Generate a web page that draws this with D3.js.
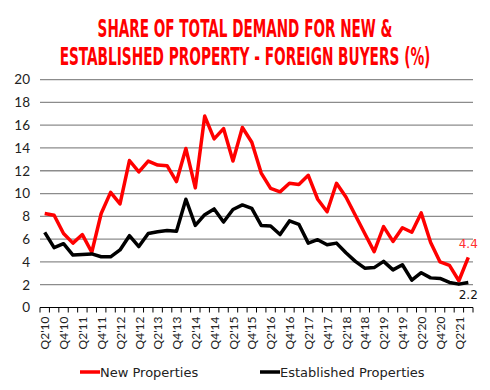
<!DOCTYPE html>
<html>
<head>
<meta charset="utf-8">
<script src="https://cdn.jsdelivr.net/npm/d3@7"></script>
<style>
  body { margin: 0; background: #fff; }
  svg { display: block; }
</style>
</head>
<body>
<svg id="chart" width="490" height="390"></svg>
<script>
// quarters from Q2'10 to Q3'21
const quarters = []
for (let yr = 10; yr <= 21; yr++) {
  for (let q = 1; q <= 4; q++) {
    if ((yr === 10 && q < 2) || (yr === 21 && q > 3)) continue
    quarters.push('Q' + q + "'" + yr)
  }
}

const newProps = [8.25, 8.1, 6.5, 5.65, 6.4, 4.85, 8.25, 10.1, 9.1, 12.9, 11.9, 12.85,
  12.5, 12.45, 11.05, 13.95, 10.5, 16.8, 14.8, 15.7, 12.85, 15.8, 14.5, 11.8,
  10.45, 10.15, 10.9, 10.8, 11.6, 9.5, 8.4, 10.9, 9.7, 8.1, 6.5, 4.9,
  7.1, 5.8, 7.0, 6.6, 8.3, 5.7, 4.0, 3.7, 2.35, 4.4]

const establishedProps = [6.6, 5.25, 5.6, 4.6, 4.65, 4.7, 4.45, 4.45, 5.05, 6.3, 5.35, 6.5,
  6.65, 6.75, 6.7, 9.5, 7.2, 8.15, 8.65, 7.5, 8.6, 9.0, 8.7, 7.2,
  7.15, 6.4, 7.6, 7.3, 5.65, 5.95, 5.5, 5.65, 4.8, 4.05, 3.45, 3.5,
  4.05, 3.3, 3.75, 2.4, 3.05, 2.6, 2.55, 2.2, 2.05, 2.2]

const yTicks = [0, 2, 4, 6, 8, 10, 12, 14, 16, 18, 20]
const titleLines = ['SHARE OF TOTAL DEMAND FOR NEW &', 'ESTABLISHED PROPERTY - FOREIGN BUYERS (%)']

const svg = d3.select('#chart')
const plotLeft = 40, plotRight = 473, plotTop = 79.6, plotBottom = 307.5

// title - squeeze horizontally to look like a condensed display face
let titleWidths = [295, 371]
svg.append('g').selectAll('text')
  .data(titleLines)
  .join('text')
    .attr('text-anchor', 'middle')
    .attr('fill', '#ff0000')
    .attr('font-family', "'DejaVu Sans Condensed', 'Liberation Sans Narrow', sans-serif")
    .attr('font-weight', 'bold')
    .attr('font-size', 25)
    .text(d => d)
    .attr('transform', function (d, i) {
      let w = this.getComputedTextLength()
      let sx = titleWidths[i] / w
      return 'translate(245,' + (i === 0 ? 37 : 65) + ') scale(' + sx + ',1)'
    })

let x = d3.scaleBand()
  .domain(quarters)
  .range([plotLeft, plotRight])

let y = d3.scaleLinear()
  .domain([0, 20])
  .range([plotBottom, plotTop])

// gridlines
svg.append('g').selectAll('line')
  .data(yTicks.filter(d => d > 0))
  .join('line')
    .attr('x1', plotLeft)
    .attr('x2', plotRight)
    .attr('y1', d => y(d))
    .attr('y2', d => y(d))
    .attr('stroke', '#8c8c8c')
    .attr('stroke-width', 1.3)

// y labels
svg.append('g').selectAll('text')
  .data(yTicks)
  .join('text')
    .attr('x', 30)
    .attr('y', d => y(d))
    .attr('dy', '0.36em')
    .attr('text-anchor', 'end')
    .attr('font-family', 'Lato, sans-serif')
    .attr('font-size', 13.5)
    .attr('fill', '#222')
    .text(d => d)

// x axis with ticks at band edges
let xAxis = svg.append('g')
xAxis.append('line')
  .attr('x1', plotLeft).attr('x2', plotRight)
  .attr('y1', plotBottom).attr('y2', plotBottom)
  .attr('stroke', '#000')
  .attr('stroke-width', 1.2)
xAxis.selectAll('.tk')
  .data(quarters.concat(['end']))
  .join('line')
    .attr('class', 'tk')
    .attr('x1', (d, i) => plotLeft + i * x.bandwidth())
    .attr('x2', (d, i) => plotLeft + i * x.bandwidth())
    .attr('y1', plotBottom)
    .attr('y2', plotBottom + 5)
    .attr('stroke', '#000')
    .attr('stroke-width', 1)
xAxis.selectAll('text')
  .data(quarters.filter((d, i) => i % 2 === 0))
  .join('text')
    .attr('transform', d => 'translate(' + (x(d) + x.bandwidth() / 2 + 0.5) + ',' + (plotBottom + 9) + ') rotate(-90)')
    .attr('dy', '0.35em')
    .attr('text-anchor', 'end')
    .attr('font-family', 'Lato, sans-serif')
    .attr('font-size', 12)
    .attr('fill', '#222')
    .text(d => d)

let line = d3.line()
  .x((d, i) => x(quarters[i]) + x.bandwidth() / 2)
  .y(d => y(d))

svg.append('path')
  .datum(newProps)
  .attr('fill', 'none')
  .attr('stroke', '#ff0000')
  .attr('stroke-width', 3.5)
  .attr('stroke-linejoin', 'round')
  .attr('d', line)

svg.append('path')
  .datum(establishedProps)
  .attr('fill', 'none')
  .attr('stroke', '#000')
  .attr('stroke-width', 3.5)
  .attr('stroke-linejoin', 'round')
  .attr('d', line)

// end value labels
let lastQ = quarters[quarters.length - 1]
let lastX = x(lastQ) + x.bandwidth() / 2
svg.append('text')
  .attr('x', lastX)
  .attr('y', y(newProps[newProps.length - 1]) - 9)
  .attr('text-anchor', 'middle')
  .attr('font-family', 'DejaVu Sans, sans-serif')
  .attr('font-size', 12)
  .attr('fill', '#ff3030')
  .text(newProps[newProps.length - 1])
svg.append('text')
  .attr('x', lastX)
  .attr('y', y(establishedProps[establishedProps.length - 1]) + 17)
  .attr('text-anchor', 'middle')
  .attr('font-family', 'DejaVu Sans, sans-serif')
  .attr('font-size', 12)
  .attr('fill', '#111')
  .text(establishedProps[establishedProps.length - 1])

// legend
let legend = [
  {name: 'New Properties', color: '#ff0000', x: 80},
  {name: 'Established Properties', color: '#000', x: 260}
]
let lg = svg.append('g').selectAll('g')
  .data(legend)
  .join('g')
    .attr('transform', d => 'translate(' + d.x + ',372)')
lg.append('line')
  .attr('x1', 0).attr('x2', 20)
  .attr('stroke', d => d.color)
  .attr('stroke-width', 3.5)
lg.append('text')
  .attr('x', 20)
  .attr('dy', '0.35em')
  .attr('font-family', 'DejaVu Sans, sans-serif')
  .attr('font-size', 13)
  .attr('fill', '#222')
  .text(d => d.name)
</script>
</body>
</html>
